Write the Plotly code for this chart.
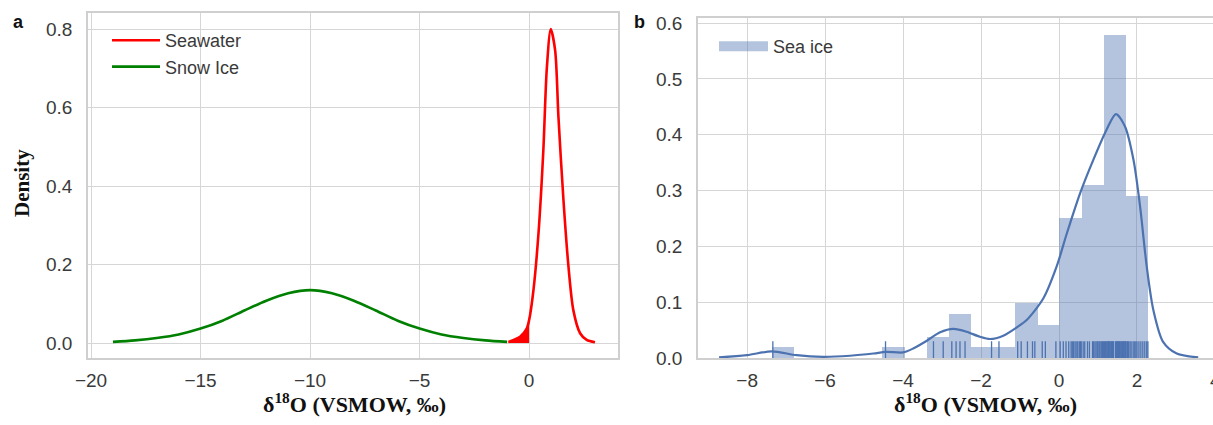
import plotly.graph_objects as go

# ---------------- Data ----------------
# Panel a: kernel density curves
seawater_x = [-0.94, -0.70, -0.41, -0.11, 0.0, 0.20, 0.43, 0.65, 0.81, 0.99, 1.19, 1.34, 1.57, 1.80, 2.02, 2.33, 2.63, 3.01]
seawater_y = [0.003, 0.008, 0.016, 0.037, 0.058, 0.135, 0.28, 0.49, 0.70, 0.80, 0.746, 0.577, 0.364, 0.194, 0.084, 0.025, 0.008, 0.002]

snow_x = [-19, -18, -17, -16, -15, -14, -13, -12, -11, -10, -9, -8, -7, -6, -5, -4, -3, -2, -1]
snow_y = [0.003, 0.007, 0.013, 0.022, 0.037, 0.057, 0.083, 0.108, 0.127, 0.135, 0.127, 0.108, 0.083, 0.057, 0.037, 0.022, 0.013, 0.007, 0.003]

# Panel b: sea ice histogram (density), KDE and rug
bin_edges = [-7.37, -6.80, -6.23, -5.67, -5.10, -4.53, -3.96, -3.39, -2.83, -2.26, -1.69, -1.12, -0.55, 0.01, 0.58, 1.15, 1.72, 2.29]
bin_density = [0.020, 0, 0, 0, 0, 0.020, 0, 0.038, 0.078, 0.019, 0.019, 0.098, 0.059, 0.251, 0.310, 0.578, 0.291]

kde_x = [-8.72, -8.0, -7.37, -6.73, -6.05, -5.36, -4.76, -4.44, -4.0, -3.74, -3.39, -3.05, -2.71, -2.37, -2.03, -1.77,
         -1.43, -1.08, -0.83, -0.40, -0.06, 0.20, 0.54, 0.88, 1.22, 1.46, 1.69, 1.91, 2.08, 2.25, 2.42, 2.67, 3.02, 3.57]
kde_y = [0.001, 0.005, 0.012, 0.005, 0.002, 0.004, 0.008, 0.011, 0.010, 0.017, 0.031, 0.046, 0.052, 0.047, 0.038, 0.034,
         0.040, 0.055, 0.068, 0.107, 0.164, 0.223, 0.295, 0.355, 0.409, 0.437, 0.415, 0.355, 0.271, 0.164, 0.086, 0.029, 0.008, 0.001]

rug_values = [-7.34, -4.45,
              -3.22, -2.97,
              -2.75, -2.64, -2.54, -2.41,
              -1.73, -1.54,
              -1.06, -0.97, -0.81, -0.68, -0.62,
              -0.43, -0.35, -0.08,
              0.03, 0.11, 0.18, 0.25, 0.31, 0.34, 0.37, 0.41, 0.44, 0.48, 0.52, 0.55, 0.57,
              0.62, 0.66, 0.73, 0.78, 0.86, 0.88, 0.92, 0.95, 0.98, 1.00, 1.03, 1.05, 1.08, 1.10, 1.12, 1.14,
              1.17, 1.19, 1.21, 1.23, 1.25, 1.27, 1.28, 1.29, 1.31, 1.33, 1.35, 1.37, 1.39, 1.40,
              1.45, 1.47, 1.49, 1.50, 1.51, 1.53, 1.55, 1.57, 1.59, 1.61, 1.63, 1.65, 1.67, 1.69, 1.70, 1.71,
              1.74, 1.76, 1.78, 1.82, 1.85, 1.90, 1.93, 1.97, 2.00, 2.05, 2.10, 2.15, 2.20, 2.25, 2.28]

xticks_a = [-20, -15, -10, -5, 0]
yticks_a = [0.0, 0.2, 0.4, 0.6, 0.8]
xticks_b = [-8, -6, -4, -2, 0, 2]
yticks_b = [0.0, 0.1, 0.2, 0.3, 0.4, 0.5, 0.6]

# ---------------- Styles ----------------
W, H = 1213, 425
GRID = "#d6d6d6"
TXT = "#3a3a3a"
BLUE = "#4c72b0"
SANS = "Arial, Liberation Sans, sans-serif"
TICKFONT = dict(family=SANS, size=19, color=TXT)
RUG_H = 0.03

fig = go.Figure()

# Panel a
fig.add_trace(go.Scatter(x=seawater_x, y=seawater_y, mode="lines", name="Seawater",
                         line=dict(color="red", width=2.6, shape="spline", smoothing=0.8),
                         legendgroup="sw", xaxis="x", yaxis="y", legend="legend"))
neg_x = [v for v in seawater_x if v <= 0]
neg_y = [seawater_y[i] for i, v in enumerate(seawater_x) if v <= 0]
fig.add_trace(go.Scatter(x=neg_x, y=neg_y, mode="lines", fill="tozeroy", fillcolor="red",
                         line=dict(color="red", width=1, shape="spline", smoothing=0.8),
                         showlegend=False, hoverinfo="skip", xaxis="x", yaxis="y"))
fig.add_trace(go.Scatter(x=snow_x, y=snow_y, mode="lines", name="Snow Ice",
                         line=dict(color="green", width=2.6, shape="spline", smoothing=0.8),
                         legendgroup="si", xaxis="x", yaxis="y", legend="legend"))

# Panel b
centers = [(bin_edges[i] + bin_edges[i + 1]) / 2 for i in range(len(bin_density))]
widths = [bin_edges[i + 1] - bin_edges[i] for i in range(len(bin_density))]
fig.add_trace(go.Bar(x=centers, y=bin_density, width=widths, name="Sea ice", showlegend=False,
                     legendgroup="seaice",
                     marker=dict(color="rgba(76,114,176,0.42)", line=dict(width=0)),
                     xaxis="x2", yaxis="y2"))
# legend entry for the histogram, drawn as a wide patch like the original
fig.add_trace(go.Scatter(x=[None], y=[None], mode="lines", name="Sea ice", legendgroup="seaice",
                         line=dict(color="rgba(76,114,176,0.42)", width=14),
                         xaxis="x2", yaxis="y2", legend="legend2"))
rx, ry = [], []
for v in rug_values:
    rx += [v, v, None]
    ry += [0, RUG_H, None]
fig.add_trace(go.Scatter(x=rx, y=ry, mode="lines", line=dict(color=BLUE, width=1.3),
                         showlegend=False, hoverinfo="skip", xaxis="x2", yaxis="y2"))
fig.add_trace(go.Scatter(x=kde_x, y=kde_y, mode="lines", line=dict(color=BLUE, width=2.2, shape="spline", smoothing=0.8),
                         showlegend=False, xaxis="x2", yaxis="y2"))

axis_common = dict(showgrid=True, gridcolor=GRID, gridwidth=1.3, showline=True, linecolor="#cfcfcf", linewidth=1.5,
                   zeroline=False, ticks="", tickfont=TICKFONT, automargin=False)

fig.update_layout(
    width=W, height=H, autosize=False,
    margin=dict(l=0, r=0, t=0, b=0),
    paper_bgcolor="white", plot_bgcolor="white",
    bargap=0,
    xaxis=dict(domain=[88 / W, 618 / W], range=[-20.14, 4.06], tickvals=xticks_a, mirror=True,
               ticklabelstandoff=4, anchor="y", **axis_common),
    yaxis=dict(domain=[1 - 358 / H, 1 - 13 / H], range=[-0.038, 0.841], tickvals=yticks_a, tickformat=".1f",
               mirror=True, ticklabelstandoff=10, anchor="x", **axis_common),
    xaxis2=dict(domain=[698 / W, 1.0], range=[-9.26, 3.95], tickvals=xticks_b, mirror=True,
                ticklabelstandoff=4, anchor="y2", **axis_common),
    yaxis2=dict(domain=[1 - 358 / H, 1 - 18 / H], range=[0, 0.609], tickvals=yticks_b, tickformat=".1f",
                ticklabelstandoff=10, anchor="x2", **axis_common),
    legend=dict(x=107 / W, y=1 - 22 / H, xanchor="left", yanchor="top", bgcolor="rgba(0,0,0,0)",
                font=dict(family=SANS, size=18, color=TXT),
                traceorder="grouped", tracegroupgap=0, itemwidth=48),
    legend2=dict(x=714 / W, y=1 - 28 / H, xanchor="left", yanchor="top", bgcolor="rgba(0,0,0,0)",
                 font=dict(family=SANS, size=18, color=TXT), itemwidth=49),
    showlegend=True,
)

TITLEFONT = dict(family="Times New Roman, Liberation Serif, serif", size=22, color="#111111")
annos = [
    dict(text="<b>Density</b>", x=22 / W, y=1 - 183 / H, textangle=-90, font=dict(TITLEFONT, size=21)),
    dict(text="<b>δ<sup>18</sup>O (VSMOW, ‰)</b>", x=355 / W, y=1 - 403 / H, font=TITLEFONT),
    dict(text="<b>δ<sup>18</sup>O (VSMOW, ‰)</b>", x=985 / W, y=1 - 403 / H, font=TITLEFONT),
    dict(text="<b>a</b>", x=18 / W, y=1 - 22 / H, font=dict(family=SANS, size=18, color="#111")),
    dict(text="<b>b</b>", x=639 / W, y=1 - 22 / H, font=dict(family=SANS, size=18, color="#111")),
    dict(text="4", x=1215 / W, y=1 - 380 / H, font=TICKFONT),
]
for a in annos:
    fig.add_annotation(xref="paper", yref="paper", showarrow=False, xanchor="center", yanchor="middle", **a)

fig.write_html("out.html", config={"displayModeBar": False},
               post_script="document.body.style.margin='0';document.body.style.overflow='hidden';")
